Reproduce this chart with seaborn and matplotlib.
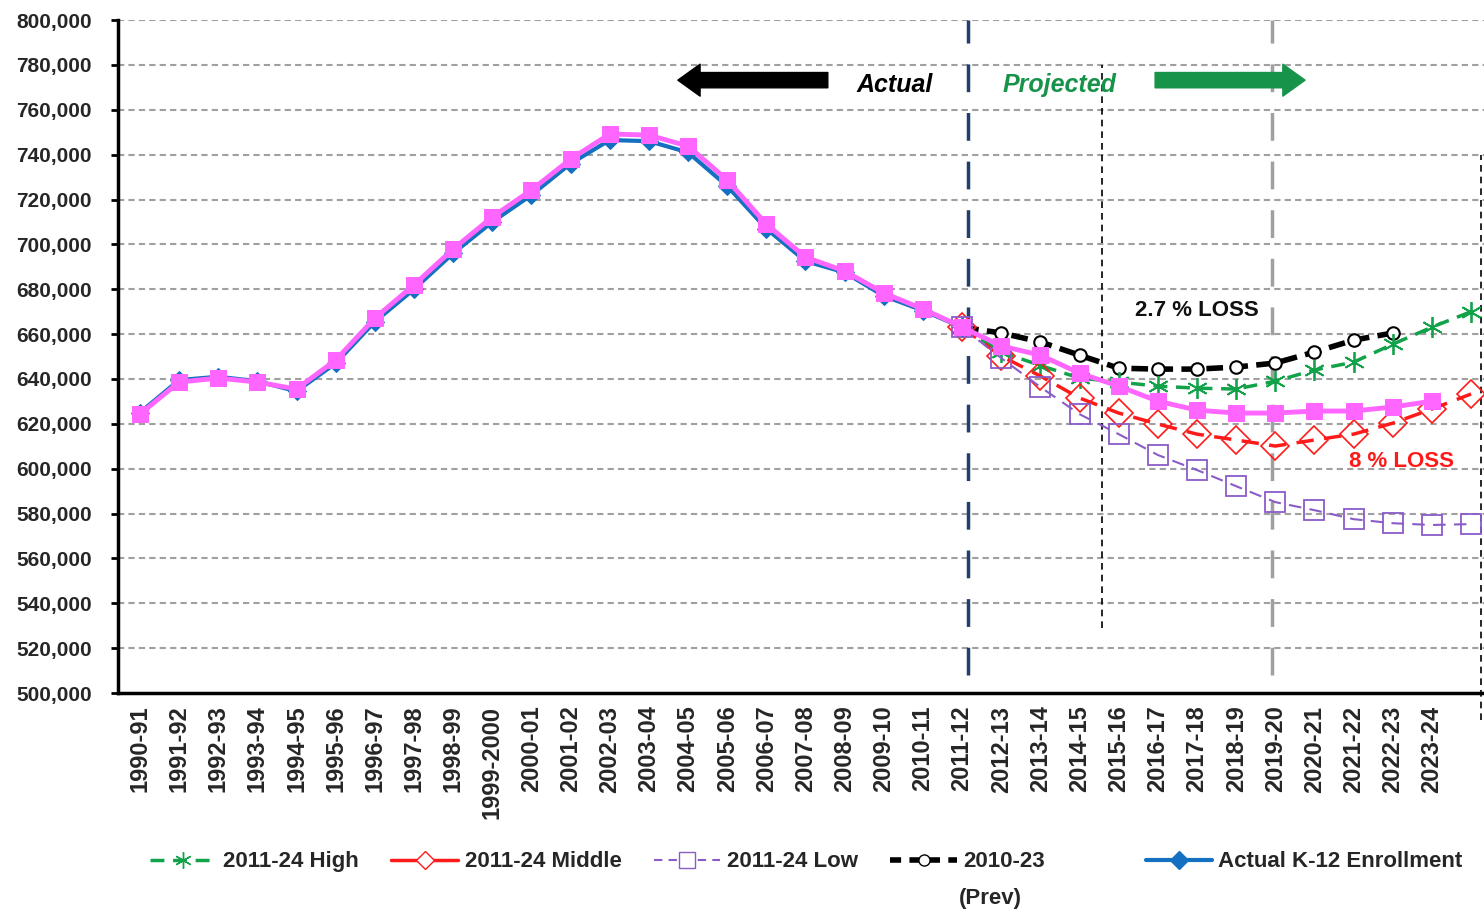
import numpy as np
import pandas as pd
import matplotlib
matplotlib.use("Agg")
import matplotlib.pyplot as plt
import matplotlib.ticker as mticker
from matplotlib.lines import Line2D
import seaborn as sns

# school years on the x axis (last slot has no label)
years = ["1990-91", "1991-92", "1992-93", "1993-94", "1994-95", "1995-96",
         "1996-97", "1997-98", "1998-99", "1999-2000", "2000-01", "2001-02",
         "2002-03", "2003-04", "2004-05", "2005-06", "2006-07", "2007-08",
         "2008-09", "2009-10", "2010-11", "2011-12", "2012-13", "2013-14",
         "2014-15", "2015-16", "2016-17", "2017-18", "2018-19", "2019-20",
         "2020-21", "2021-22", "2022-23", "2023-24", ""]

# actual enrollment 1990-91 .. 2011-12
actual = [625000, 639500, 641000, 639000, 634500, 647000, 665500, 680000,
          696000, 710000, 722000, 736000, 746500, 746000, 741000, 726000,
          707000, 692500, 687500, 677000, 670500, 663000]

# pink series 1990-91 .. 2023-24
pink = [624300, 638600, 640400, 638600, 635500, 648400, 667100, 681900,
        697900, 712200, 724200, 738000, 749200, 748700, 743800, 728700,
        709000, 694300, 688100, 678300, 671200, 663100, 654700, 650600,
        642600, 636800, 630100, 626100, 624800, 624800, 625700, 625700,
        627500, 630100]

# projections 2011-12 .. 2024-25
high = [663000, 652000, 646000, 640400, 638600, 636800, 635900, 635500,
        639000, 644000, 647500, 655500, 663100, 670000]
middle = [663000, 650200, 641300, 631500, 624800, 619900, 615400, 612800,
          610100, 612800, 615400, 620300, 626600, 633300]
low = [663000, 649300, 636400, 624300, 615400, 606100, 599400, 592200,
       585100, 581500, 577500, 575700, 574900, 575300]
# previous projection 2011-12 .. 2022-23
prev = [663000, 660500, 656500, 650600, 644800, 644400, 644400, 645300,
        647100, 652000, 657300, 660500]

sns.set_theme(style="white")
plt.rcParams["font.family"] = ["Liberation Sans", "DejaVu Sans"]

GREEN = "#12a24a"
RED = "#ff1a1a"
PURPLE = "#8a5cc8"
BLUE = "#1470c0"
PINK = "#ff66ff"

fig = plt.figure(figsize=(14.84, 9.15), dpi=100)
ax = fig.add_axes([0.0795, 0.2426, 0.9205, 0.7355])

start = years.index("2011-12")
x_all = np.arange(len(years))

sns.lineplot(x=x_all[start:start + len(prev)], y=prev, ax=ax, color="black",
             lw=4, marker="o", markersize=9, markerfacecolor="white",
             markeredgecolor="black", markeredgewidth=1.5, zorder=3)
ax.lines[-1].set_dashes([3, 1.5])

sns.lineplot(x=x_all[start:start + len(high)], y=high, ax=ax, color=GREEN,
             lw=2.5, marker=(6, 2, 0), markersize=15, markeredgecolor=GREEN,
             markeredgewidth=1.3, zorder=3)
ax.lines[-1].set_dashes([4, 2.5])

sns.lineplot(x=x_all[start:start + len(middle)], y=middle, ax=ax, color=RED,
             lw=2.5, marker="D", markersize=14, markerfacecolor="none",
             markeredgecolor=RED, markeredgewidth=1.2, zorder=3)
ax.lines[-1].set_dashes([5, 3])

sns.lineplot(x=x_all[start:start + len(low)], y=low, ax=ax, color=PURPLE,
             lw=1.5, marker="s", markersize=15, markerfacecolor="none",
             markeredgecolor=PURPLE, markeredgewidth=1.3, zorder=3)
ax.lines[-1].set_dashes([6, 4])

sns.lineplot(x=x_all[:len(actual)], y=actual, ax=ax, color=BLUE, lw=3,
             marker="D", markersize=9, markeredgecolor=BLUE, zorder=4)

sns.lineplot(x=x_all[:len(pink)], y=pink, ax=ax, color=PINK, lw=3.5,
             marker="s", markersize=12, markeredgecolor=PINK, zorder=5)

# vertical reference lines
ax.axvline(21.15, ymin=0.027, ymax=1, color="#1f3f6e", lw=2.5,
           dashes=(8, 6), zorder=2)
ax.axvline(28.91, ymin=0.027, ymax=1, color="#a0a0a0", lw=2.5,
           dashes=(8, 6), zorder=2)
ax.axvline(24.57, ymin=0.097, ymax=0.933, color="black", lw=1.2,
           dashes=(4, 3), zorder=2)
ax.axvline(34.25, ymin=-0.04, ymax=0.80, color="black", lw=1.2,
           dashes=(4, 3), zorder=2, clip_on=False)

ax.set_xlim(-0.56, 34.33)
ax.set_ylim(500000, 800000)
ax.set_yticks(np.arange(500000, 800001, 20000))
ax.yaxis.set_major_formatter(mticker.StrMethodFormatter("{x:,.0f}"))
ax.set_xticks(x_all)
ax.set_xticklabels(years, rotation=90, fontweight="bold", fontsize=17)
for lab in ax.get_yticklabels():
    lab.set_fontweight("bold")
    lab.set_fontsize(15)
ax.tick_params(axis="y", length=5, width=2, color="black", pad=14,
               direction="out", left=True)
ax.tick_params(axis="x", length=0, pad=9)
ax.set_xlabel("")
ax.set_ylabel("")

ax.yaxis.grid(True, color="#a0a0a0", lw=1.5, linestyle=(0, (3, 2)))
ax.set_axisbelow(True)
for s in ["top", "right"]:
    ax.spines[s].set_visible(False)
for s in ["left", "bottom"]:
    ax.spines[s].set_color("black")
    ax.spines[s].set_linewidth(2.5)

# Actual / Projected banner
arrow_style = "simple,head_length=0.8,head_width=1.15,tail_width=0.55"
ax.annotate("", xy=(13.74, 773200), xytext=(17.57, 773200),
            arrowprops=dict(arrowstyle=arrow_style, color="black",
                            mutation_scale=20, shrinkA=0, shrinkB=0))
ax.annotate("", xy=(29.76, 773200), xytext=(25.93, 773200),
            arrowprops=dict(arrowstyle=arrow_style, color="#17934a",
                            mutation_scale=20, shrinkA=0, shrinkB=0))
ax.text(19.28, 771000, "Actual", ha="center", va="center", fontsize=18,
        fontweight="bold", fontstyle="italic", color="black")
ax.text(23.5, 771000, "Projected", ha="center", va="center", fontsize=18,
        fontweight="bold", fontstyle="italic", color="#17934a")
ax.text(27.0, 670300, "2.7 % LOSS", ha="center", va="center", fontsize=16,
        fontweight="bold", color="#111111")
ax.text(32.23, 603400, "8 % LOSS", ha="center", va="center", fontsize=16,
        fontweight="bold", color=RED)

# legend
h_high = Line2D([], [], color=GREEN, lw=2.5, dashes=[4, 2.5], marker=(6, 2, 0),
                markersize=12, markeredgecolor=GREEN)
h_mid = Line2D([], [], color=RED, lw=2.5, marker="D", markersize=9,
               markerfacecolor="white", markeredgecolor=RED)
h_low = Line2D([], [], color=PURPLE, lw=1.5, dashes=[4, 3], marker="s",
               markersize=11, markerfacecolor="white", markeredgecolor=PURPLE)
h_prev = Line2D([], [], color="black", lw=4, dashes=[2, 1.5], marker="o",
                markersize=8, markerfacecolor="white", markeredgecolor="black")
h_act = Line2D([], [], color=BLUE, lw=3, marker="D", markersize=9,
               markeredgecolor=BLUE)

leg_font = {"size": 16, "weight": "bold"}
fig.legend([h_high, h_mid, h_low, h_prev],
           ["2011-24 High", "2011-24 Middle", "2011-24 Low", "2010-23"],
           loc="center left", bbox_to_anchor=(0.101, 0.058), ncol=4,
           frameon=False, prop=leg_font, handlelength=3.0,
           handletextpad=0.3, columnspacing=1.45, borderaxespad=0,
           borderpad=0)
fig.legend([h_act], ["Actual K-12 Enrollment"], loc="center left",
           bbox_to_anchor=(0.772, 0.058), frameon=False, prop=leg_font,
           handlelength=3.0, handletextpad=0.25, borderaxespad=0, borderpad=0)
fig.text(0.646, 0.018, "(Prev)", fontsize=16, fontweight="bold",
         ha="left", va="center")

fig.savefig("out.png", dpi=100)
